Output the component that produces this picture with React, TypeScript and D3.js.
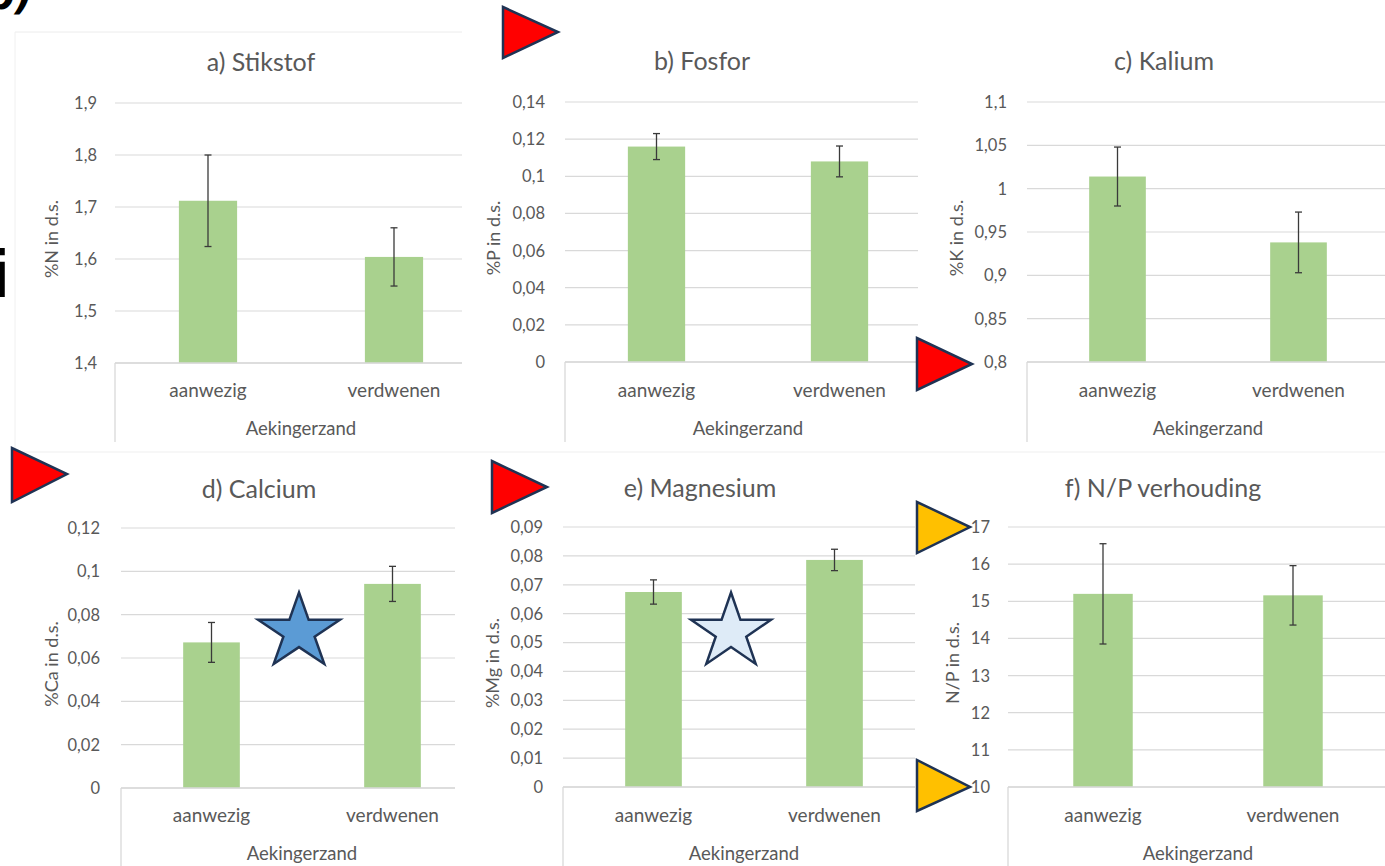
import React from "react";
import * as d3 from "d3";

// Shared categories
const categories = ["aanwezig", "verdwenen"];
const siteLabel = "Aekingerzand";

// a) Stikstof
const stikstofMean = [1.712, 1.604];
const stikstofErr = [0.088, 0.056];
const stikstofTicks = [1.4, 1.5, 1.6, 1.7, 1.8, 1.9];

// b) Fosfor
const fosforMean = [0.116, 0.108];
const fosforErr = [0.007, 0.0083];
const fosforTicks = [0, 0.02, 0.04, 0.06, 0.08, 0.1, 0.12, 0.14];

// c) Kalium
const kaliumMean = [1.014, 0.938];
const kaliumErr = [0.034, 0.035];
const kaliumTicks = [0.8, 0.85, 0.9, 0.95, 1, 1.05, 1.1];

// d) Calcium
const calciumMean = [0.0672, 0.0942];
const calciumErr = [0.0092, 0.0081];
const calciumTicks = [0, 0.02, 0.04, 0.06, 0.08, 0.1, 0.12];

// e) Magnesium
const magnesiumMean = [0.0675, 0.0786];
const magnesiumErr = [0.0042, 0.0037];
const magnesiumTicks = [0, 0.01, 0.02, 0.03, 0.04, 0.05, 0.06, 0.07, 0.08, 0.09];

// f) N/P verhouding
const npMean = [15.2, 15.16];
const npErr = [1.35, 0.8];
const npTicks = [10, 11, 12, 13, 14, 15, 16, 17];

const nl = d3.formatLocale({ decimal: ",", thousands: ".", grouping: [3], currency: ["€ ", ""] });
const fmt = nl.format(".6~g");

const FONT = "Lato, 'Open Sans', sans-serif";
const BAR = "#a9d18e";
const GRID = "#d9d9d9";
const TEXT = "#595959";

type Panel = {
  title: string;
  yLabel: string;
  mean: number[];
  err: number[];
  ticks: number[];
  left: number;
  width: number;
  top: number;
  bottom: number;
  titleX: number;
  titleY: number;
  tickX: number;
  yTitleX: number;
  catY: number;
  groupY: number;
  frameBottom: number;
  bgX: number;
  bgY: number;
  bgH: number;
};

const panels: Panel[] = [
  { title: "a) Stikstof", yLabel: "%N in d.s.", mean: stikstofMean, err: stikstofErr, ticks: stikstofTicks,
    left: 115, width: 372, top: 103, bottom: 363, titleX: 261, titleY: 71, tickX: 97, yTitleX: 58,
    catY: 397, groupY: 435, frameBottom: 442, bgX: 15, bgY: 32, bgH: 418 },
  { title: "b) Fosfor", yLabel: "%P in d.s.", mean: fosforMean, err: fosforErr, ticks: fosforTicks,
    left: 565, width: 366, top: 102, bottom: 362, titleX: 702, titleY: 70, tickX: 545, yTitleX: 500,
    catY: 397, groupY: 435, frameBottom: 442, bgX: 462, bgY: 30, bgH: 420 },
  { title: "c) Kalium", yLabel: "%K in d.s.", mean: kaliumMean, err: kaliumErr, ticks: kaliumTicks,
    left: 1027, width: 362, top: 102, bottom: 362, titleX: 1164, titleY: 70, tickX: 1007, yTitleX: 963,
    catY: 397, groupY: 435, frameBottom: 442, bgX: 918, bgY: 30, bgH: 420 },
  { title: "d) Calcium", yLabel: "%Ca in d.s.", mean: calciumMean, err: calciumErr, ticks: calciumTicks,
    left: 121, width: 362, top: 528, bottom: 788, titleX: 259, titleY: 498, tickX: 100, yTitleX: 58,
    catY: 822, groupY: 860, frameBottom: 866, bgX: 15, bgY: 455, bgH: 411 },
  { title: "e) Magnesium", yLabel: "%Mg in d.s.", mean: magnesiumMean, err: magnesiumErr, ticks: magnesiumTicks,
    left: 563, width: 362, top: 527, bottom: 787, titleX: 700, titleY: 497, tickX: 543, yTitleX: 499,
    catY: 822, groupY: 860, frameBottom: 866, bgX: 455, bgY: 455, bgH: 411 },
  { title: "f) N/P verhouding", yLabel: "N/P in d.s.", mean: npMean, err: npErr, ticks: npTicks,
    left: 1008, width: 380, top: 527, bottom: 787, titleX: 1163, titleY: 497, tickX: 990, yTitleX: 959,
    catY: 822, groupY: 860, frameBottom: 866, bgX: 915, bgY: 455, bgH: 411 },
];

// Call-out markers drawn on top of the charts
const redMarkers = [
  [[503, 7], [503, 58], [558, 32]],
  [[917, 338], [917, 390], [972, 364]],
  [[12, 448], [12, 502], [67, 474]],
  [[492, 461], [492, 513], [547, 487]],
];
const yellowMarkers = [
  [[917, 502], [917, 553], [970, 527]],
  [[917, 760], [917, 811], [970, 787]],
];
const stars = [
  { cx: 299, cy: 632, rx: 43, ry: 39.5, fill: "#5b9bd5" },
  { cx: 731, cy: 632, rx: 42, ry: 39.5, fill: "#deebf7" },
];

function starPath(cx: number, cy: number, rx: number, ry: number, inner = 0.382) {
  const pts: string[] = [];
  for (let i = 0; i < 10; i++) {
    const a = -Math.PI / 2 + (i * Math.PI) / 5;
    const r = i % 2 === 0 ? 1 : inner;
    pts.push(`${cx + Math.cos(a) * rx * r},${cy + Math.sin(a) * ry * r}`);
  }
  return `M${pts.join("L")}Z`;
}

function ChartPanel({ p, idx }: { p: Panel; idx: number }) {
  const y = d3
    .scaleLinear()
    .domain([p.ticks[0], p.ticks[p.ticks.length - 1]])
    .range([p.bottom, p.top]);
  const pad = 0.687;
  const x = d3
    .scaleBand<string>()
    .domain(categories)
    .range([p.left, p.left + p.width])
    .paddingInner(pad)
    .paddingOuter(pad / 2);
  const bw = x.bandwidth();
  const clipId = `clip-${idx}`;
  const clipRight = idx % 3 === 2 ? 1385 : panels[idx + 1].bgX;
  return (
    <g>
      <rect x={p.bgX} y={p.bgY} width={1385 - p.bgX} height={p.bgH} fill="#ffffff" />
      <defs>
        <clipPath id={clipId}>
          <rect x={p.bgX} y={p.bgY} width={clipRight - p.bgX} height={p.bgH} />
        </clipPath>
      </defs>
      <g clipPath={`url(#${clipId})`} fontFamily={FONT}>
        <text x={p.titleX} y={p.titleY} textAnchor="middle" fontSize={25} fill={TEXT}>
          {p.title}
        </text>
        {p.ticks.map((t) => (
          <g key={t}>
            <line x1={p.left} x2={p.left + p.width} y1={y(t)} y2={y(t)} stroke={GRID} strokeWidth={1.2} />
            <text x={p.tickX} y={y(t)} dy="0.36em" textAnchor="end" fontSize={16.5} fill={TEXT}>
              {fmt(t)}
            </text>
          </g>
        ))}
        <text
          transform={`translate(${p.yTitleX},${(p.top + p.bottom) / 2 + 6}) rotate(-90)`}
          textAnchor="middle"
          fontSize={18}
          fill={TEXT}
        >
          {p.yLabel}
        </text>
        {categories.map((c, i) => {
          const cx = (x(c) as number) + bw / 2;
          const v = p.mean[i];
          const e = p.err[i];
          return (
            <g key={c}>
              <rect x={x(c)} y={y(v)} width={bw} height={p.bottom - y(v)} fill={BAR} />
              <line x1={cx} x2={cx} y1={y(v + e)} y2={y(v - e)} stroke="#3a3a3a" strokeWidth={1.3} />
              <line x1={cx - 3.5} x2={cx + 3.5} y1={y(v + e)} y2={y(v + e)} stroke="#3a3a3a" strokeWidth={1.3} />
              <line x1={cx - 3.5} x2={cx + 3.5} y1={y(v - e)} y2={y(v - e)} stroke="#3a3a3a" strokeWidth={1.3} />
              <text x={cx} y={p.catY} textAnchor="middle" fontSize={19} fill={TEXT}>
                {c}
              </text>
            </g>
          );
        })}
        <line x1={p.left} x2={p.left + p.width} y1={p.bottom} y2={p.bottom} stroke={GRID} strokeWidth={1.3} />
        <line x1={p.left} x2={p.left} y1={p.bottom} y2={p.frameBottom} stroke={GRID} strokeWidth={1.3} />
        <line x1={p.left + p.width} x2={p.left + p.width} y1={p.bottom} y2={p.frameBottom} stroke={GRID} strokeWidth={1.3} />
        <text x={p.left + p.width / 2} y={p.groupY} textAnchor="middle" fontSize={18.5} fill={TEXT}>
          {siteLabel}
        </text>
      </g>
    </g>
  );
}

export default function App() {
  return (
    <svg
      width={1385}
      height={866}
      viewBox="0 0 1385 866"
      style={{ position: "absolute", left: 0, top: 0, background: "#ffffff" }}
    >
      <rect x={0} y={0} width={1385} height={866} fill="#ffffff" />
      {panels.slice(0, 3).map((p, i) => (
        <ChartPanel key={p.title} p={p} idx={i} />
      ))}
      {panels.slice(3).map((p, i) => (
        <ChartPanel key={p.title} p={p} idx={i + 3} />
      ))}
      {/* faint chart-area borders */}
      <line x1={15} x2={462} y1={32} y2={32} stroke="#ececec" strokeWidth={1} />
      <line x1={15} x2={15} y1={32} y2={448} stroke="#f0f0f0" strokeWidth={1} />
      <line x1={15} x2={1385} y1={452} y2={452} stroke="#efefef" strokeWidth={1} />

      {/* fragments of the surrounding slide text */}
      <text x={-14} y={9} fontFamily="'DejaVu Sans', sans-serif" fontWeight="bold" fontStyle="italic" fontSize={40} fill="#000">
        b)
      </text>
      <text x={-7} y={297} fontFamily="'DejaVu Sans', sans-serif" fontSize={64} fill="#000">
        i
      </text>

      {redMarkers.map((pts, i) => (
        <polygon key={`r${i}`} points={pts.map((q) => q.join(",")).join(" ")} fill="#ff0000" stroke="#1f3354" strokeWidth={2.5} strokeLinejoin="miter" />
      ))}
      {yellowMarkers.map((pts, i) => (
        <polygon key={`y${i}`} points={pts.map((q) => q.join(",")).join(" ")} fill="#ffc000" stroke="#1f3354" strokeWidth={2.5} />
      ))}
      {stars.map((s, i) => (
        <path key={`s${i}`} d={starPath(s.cx, s.cy, s.rx, s.ry)} fill={s.fill} stroke="#1f3354" strokeWidth={2.5} strokeLinejoin="miter" />
      ))}
    </svg>
  );
}
